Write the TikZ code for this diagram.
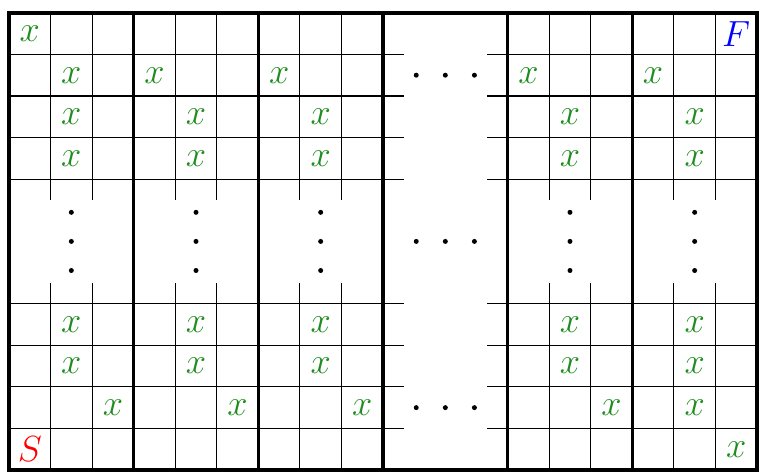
\documentclass[tikz,border=0pt]{standalone}
\usepackage{xcolor}
\definecolor{xgreen}{RGB}{30,140,30}
\begin{document}
\begin{tikzpicture}[x=1cm,y=1cm,
  thinline/.style={line width=0.8pt,black},
  thickline/.style={line width=2.4pt,black},
  mark x/.style={text=xgreen,font=\fontsize{28}{30}\selectfont,inner sep=0pt},
  cornerlab/.style={font=\fontsize{29}{32}\selectfont,inner sep=0pt},
  dotfill/.style={fill=black,draw=none}]
\useasboundingbox (-0.217,-0.1) rectangle (18.193,11.31);
% thin horizontal lines
\foreach \y in {1,2,3,4,7,8,9,10}{
  \draw[thinline] (0,\y) -- (9.5,\y);
  \draw[thinline] (11.5,\y) -- (18,\y);
}
% thin vertical lines
\foreach \x in {1,2,4,5,7,8,13,14,16,17}{
  \draw[thinline] (\x,0) -- (\x,4.5);
  \draw[thinline] (\x,6.5) -- (\x,11);
}
% thick lines
\foreach \x in {3,6,9,12,15}{
  \draw[thickline] (\x,0) -- (\x,11);
}
\draw[thickline] (0,0) rectangle (18,11);
% corner labels
\node[mark x] (x00) at (0.5,10.5) {$x$};
\node[cornerlab,text=blue] (F) at (17.5,10.5) {$F$};
\node[cornerlab,text=red] (S) at (0.5,0.5) {$S$};
\node[mark x] (x1017) at (17.5,0.5) {$x$};
% row 1
\foreach \c in {1,3,6,12,15}{
  \node[mark x] (r1c\c) at (\c+0.5,9.5) {$x$};
}
% rows 2,3,7,8
\foreach \c in {1,4,7,13,16}{
  \foreach \r/\yy in {2/8.5,3/7.5,7/3.5,8/2.5}{
    \node[mark x] (r\r c\c) at (\c+0.5,\yy) {$x$};
  }
  % vertical dots
  \foreach \d in {-0.7,0,0.7}{
    \fill[dotfill] (\c+0.5,5.5+\d) circle (0.06);
  }
}
% row 9
\foreach \c in {2,5,8,14,16}{
  \node[mark x] (r9c\c) at (\c+0.5,1.5) {$x$};
}
% horizontal dots
\foreach \yy in {9.5,5.5,1.5}{
  \foreach \d in {-0.7,0,0.7}{
    \fill[dotfill] (10.5+\d,\yy) circle (0.06);
  }
}
\end{tikzpicture}
\end{document}
